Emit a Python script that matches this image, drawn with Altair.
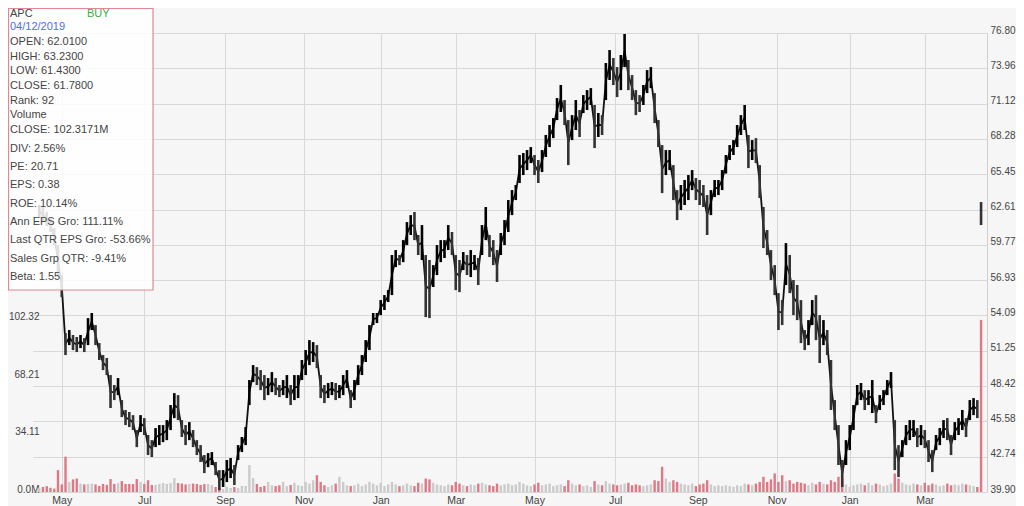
import json
import altair as alt
import pandas as pd

# ---------------- data ----------------
highs = [
    62.97, 62.81, 62.41, 61.92, 61.12, 59.75, 57.34, 52.68, 52.92, 52.52,
    52.36, 52.52, 52.27, 53.88, 54.29, 53.32, 51.87, 50.91, 50.67, 49.30,
    48.50, 49.06, 47.29, 46.49, 46.33, 46.08, 44.88, 46.08, 45.84, 44.48,
    44.07, 45.04, 45.28, 45.28, 45.68, 46.89, 47.85, 47.69, 45.68, 45.28,
    45.52, 44.88, 44.07, 43.67, 42.87, 43.03, 43.11, 42.31, 41.66, 41.66,
    42.47, 42.63, 42.07, 43.67, 44.32, 45.12, 48.90, 50.10, 49.94, 49.70,
    49.30, 49.06, 49.54, 49.06, 48.50, 48.90, 49.30, 48.50, 49.30, 49.30,
    50.51, 51.31, 52.11, 51.95, 51.71, 49.30, 48.50, 48.66, 48.74, 48.66,
    48.50, 49.30, 49.70, 48.09, 48.90, 50.10, 50.91, 52.11, 53.32, 54.29,
    54.29, 55.33, 55.73, 56.13, 58.95, 59.35, 58.95, 60.15, 61.60, 62.16,
    62.41, 60.56, 61.36, 58.95, 58.55, 58.14, 59.75, 60.15, 60.15, 61.36,
    60.80, 58.95, 58.55, 59.19, 58.95, 59.35, 58.95, 58.71, 61.36, 62.81,
    60.56, 60.15, 59.35, 60.72, 61.76, 63.37, 64.17, 64.58, 66.99, 67.15,
    67.39, 67.63, 66.99, 66.59, 67.39, 68.60, 69.40, 69.96, 71.57, 72.62,
    71.41, 69.80, 70.20, 71.41, 70.61, 71.81, 72.21, 72.37, 71.01, 70.37,
    70.20, 74.39, 75.43, 74.79, 74.06, 75.03, 76.72, 74.63, 73.42, 72.21,
    71.81, 72.62, 73.82, 74.06, 71.97, 69.80, 67.79, 67.39, 67.39, 66.18,
    64.17, 64.58, 64.98, 65.38, 65.78, 65.14, 64.98, 64.58, 63.77, 64.17,
    64.98, 64.98, 65.78, 66.99, 67.79, 68.19, 69.40, 70.20, 71.01, 68.60,
    68.19, 68.35, 66.18, 62.81, 60.96, 59.35, 58.14, 55.89, 55.33, 59.91,
    58.95, 56.94, 56.54, 55.33, 52.92, 53.72, 55.33, 55.73, 54.12, 53.72,
    52.92, 50.51, 47.29, 45.28, 42.47, 44.07, 45.28, 46.89, 48.50, 48.66,
    48.09, 48.09, 48.90, 46.89, 47.69, 48.09, 48.90, 49.54, 45.68, 43.67,
    44.07, 45.28, 45.68, 45.68, 45.04, 45.28, 44.88, 44.07, 43.27, 44.48,
    45.04, 45.68, 45.84, 44.48, 45.52, 45.84, 46.49, 45.84, 47.29, 47.45,
    47.29, 63.21,
]
lows = [
    61.92, 61.60, 61.28, 60.80, 59.75, 57.34, 55.57, 50.91, 51.71, 51.31,
    51.15, 51.47, 51.15, 51.71, 52.92, 51.71, 50.51, 49.70, 49.30, 46.65,
    47.29, 47.69, 45.92, 45.28, 45.12, 44.88, 43.51, 44.72, 44.48, 42.87,
    42.71, 43.51, 43.67, 43.91, 44.07, 44.88, 45.84, 45.68, 44.32, 43.67,
    44.07, 43.51, 42.87, 42.31, 41.42, 41.90, 42.07, 41.26, 40.05, 40.30,
    40.70, 41.02, 40.46, 42.47, 43.11, 43.67, 46.89, 48.74, 48.50, 48.09,
    47.29, 47.69, 47.93, 47.69, 47.53, 47.69, 47.45, 46.89, 47.29, 47.45,
    48.90, 49.30, 50.10, 50.35, 49.86, 47.45, 47.05, 47.45, 47.69, 47.29,
    47.45, 47.69, 48.26, 46.65, 47.29, 48.50, 49.30, 50.35, 51.31, 53.32,
    53.48, 54.12, 54.53, 55.17, 55.73, 57.98, 58.14, 58.38, 59.75, 60.56,
    60.15, 58.95, 58.55, 53.96, 53.88, 56.38, 57.34, 58.38, 58.71, 59.35,
    58.95, 56.13, 55.97, 57.74, 57.34, 57.18, 57.74, 56.54, 58.95, 60.15,
    58.79, 58.14, 56.78, 58.95, 59.75, 60.80, 62.16, 63.37, 64.74, 65.38,
    65.78, 66.34, 65.38, 64.74, 65.62, 66.83, 67.63, 68.35, 69.80, 70.45,
    69.40, 66.18, 68.19, 69.00, 68.44, 70.37, 70.61, 71.01, 67.55, 68.44,
    68.60, 71.41, 73.02, 72.62, 71.65, 72.21, 74.06, 72.21, 71.41, 70.20,
    70.45, 71.01, 71.97, 72.37, 69.56, 67.63, 63.93, 65.38, 65.78, 63.37,
    61.76, 62.57, 62.97, 63.37, 64.17, 63.37, 62.97, 62.81, 60.56, 62.16,
    63.61, 63.77, 64.17, 65.50, 66.59, 66.99, 67.63, 68.60, 69.00, 65.94,
    66.59, 66.34, 63.53, 59.51, 58.95, 56.94, 55.73, 52.92, 53.32, 56.54,
    55.89, 54.12, 53.72, 51.87, 51.31, 51.71, 53.32, 52.11, 50.27, 51.71,
    50.91, 46.49, 44.88, 42.07, 40.30, 42.07, 43.27, 44.88, 46.89, 47.29,
    46.49, 46.89, 46.25, 45.44, 46.49, 46.89, 47.69, 48.26, 41.66, 41.10,
    42.71, 43.67, 44.07, 44.32, 43.51, 43.67, 43.43, 42.31, 41.50, 43.27,
    43.67, 44.24, 44.07, 42.87, 44.07, 44.48, 44.88, 44.32, 45.68, 46.08,
    45.84, 61.36,
]
volumes = [
    2.5, 3.0, 3.5, 2.5, 2.0, 13.0, 4.5,
    21.0, 6.0, 7.5, 8.0, 5.0, 4.5,
    4.8, 5.0, 4.5, 3.6, 4.8, 4.2,
    7.7, 4.8, 5.2, 6.5, 4.8, 4.8, 4.7,
    7.7, 6.0, 4.8, 7.0, 4.2,
    4.2, 4.8, 5.3, 4.8, 5.3, 8.3,
    5.3, 5.0, 4.5, 4.8, 5.0, 4.8, 4.2,
    4.7, 4.8, 4.2, 3.0, 2.4, 1.8,
    3.0, 2.4, 3.0, 2.4, 3.6, 3.6,
    16.0, 8.3,
    4.8, 3.0, 3.6, 6.0, 4.0, 3.5, 4.0,
    6.0, 3.5, 4.2, 5.5, 4.0, 3.6, 6.0, 5.0, 7.0,
    10.0, 6.0, 4.0, 3.0, 4.0, 5.0, 9.0, 6.0, 4.0, 3.5,
    4.0, 5.0, 3.5, 4.5, 6.0, 5.0, 4.0, 5.5, 3.5, 4.5,
    6.0, 4.5, 3.5, 4.0, 5.0, 4.0, 3.5, 5.5, 5.0, 8.0,
    7.5, 5.5, 4.5, 4.0, 3.5, 4.5, 4.0, 6.0, 5.0, 4.0,
    3.5, 4.5, 4.0, 5.0, 5.5, 4.5, 4.0, 3.5, 5.0, 4.0,
    4.5, 5.0, 4.0, 4.5, 6.0, 5.0, 4.0, 3.5, 4.5, 5.5,
    4.0, 4.5, 5.0, 3.5, 4.0, 4.5, 3.5, 7.0, 5.0, 4.0,
    4.5, 3.5, 4.0, 3.0, 6.5, 4.5, 4.0, 6.5, 5.0, 4.5,
    4.0, 4.5, 5.0, 5.5, 4.0, 4.5, 4.0, 3.5, 4.0, 4.5,
    7.0, 6.5, 15.0, 8.0, 6.0, 7.0, 6.0, 5.0, 4.5, 4.0,
    5.0, 3.5, 4.5, 5.0, 7.0, 4.5, 3.5, 4.0, 3.5, 4.0,
    3.5, 3.0, 4.0, 3.5, 5.0, 4.5, 4.0, 5.0, 6.0, 9.0,
    6.0, 7.5, 11.0, 6.0, 10.0, 6.5, 7.0, 5.0, 6.0, 5.5,
    5.0, 4.0, 5.5, 4.5, 6.0, 5.0, 4.5, 7.0, 6.0, 9.0,
    7.5, 4.5, 3.0, 4.0, 4.5, 5.0, 4.0, 5.5, 4.0, 5.0,
    4.5, 3.5, 4.0, 5.0,
    11.0, 8.0, 5.5, 4.5, 4.0, 5.0,
    4.5, 4.0, 5.5, 4.0, 5.0, 4.5, 3.5, 4.0, 5.0, 4.0,
    4.5, 4.0, 5.0, 4.5, 4.0, 3.5, 3.0,
    102.32,
]

first_day = -12          # trading-day index of the first bar (0 = 1 May 2017)
day_step = 2             # trading days per bar

month_names = ["May", "Jul", "Sep", "Nov", "Jan", "Mar",
               "May", "Jul", "Sep", "Nov", "Jan", "Mar"]
month_days = [0, 44, 87, 129, 170, 210, 252, 295, 339, 381, 420, 460]

price_ticks = [39.90, 42.74, 45.58, 48.42, 51.25, 54.09, 56.93,
               59.77, 62.61, 65.45, 68.28, 71.12, 73.96, 76.80]
vol_ticks = [0, 34.11, 68.21, 102.32]
vol_tick_labels = ["0.0M", "34.11", "68.21", "102.32"]

ticker = "APC"
signal = "BUY"
quote_date = "04/12/2019"
info_open, info_close = 62.01, 61.78
block1 = ["OPEN: 62.0100", "HIGH: 63.2300", "LOW: 61.4300", "CLOSE: 61.7800",
          "Rank: 92", "Volume", "CLOSE: 102.3171M"]
block2 = ["DIV: 2.56%", "PE: 20.71", "EPS: 0.38", "ROE: 10.14%",
          "Ann EPS Gro: 111.11%", "Last QTR EPS Gro: -53.66%",
          "Sales Grp QTR: -9.41%", "Beta: 1.55"]

# ---------------- table ----------------
n = len(highs)
days = [first_day + day_step * k for k in range(n)]
mids = [(h + l) / 2 for h, l in zip(highs, lows)]
down = [False] + [mids[k] < mids[k - 1] for k in range(1, n)]
down[-1] = info_close < info_open
df = pd.DataFrame({
    "day": days, "high": highs, "low": lows, "mid": mids, "volume": volumes,
    "dir": ["down" if d else "up" for d in down],
})
# the connecting trace stops before the final (gap) bar
trace_df = df.iloc[:-1]

FONT = "Liberation Sans, Arial, sans-serif"
GRID = "#d8d8d8"

x_scale = alt.Scale(domain=[-12.66, 490.5], nice=False, zero=False)
x_axis = alt.Axis(
    values=month_days,
    labelExpr=f"{json.dumps(month_names)}[indexof({json.dumps(month_days)}, datum.value)]",
    grid=True, gridColor=GRID, domain=False, ticks=False,
    labelFontSize=10.5, labelColor="#444", labelFont=FONT, labelPadding=3, title=None,
)
price_scale = alt.Scale(domain=[39.90, 76.80], nice=False, zero=False)
price_axis = alt.Axis(orient="right", values=price_ticks, format=".2f",
                      grid=True, gridColor=GRID, domain=True, domainColor="#cfcfcf",
                      ticks=False, title=None, labelFontSize=10, labelColor="#444",
                      labelFont=FONT, labelPadding=3, labelBaseline="alphabetic")

vol = alt.Chart(df).mark_bar(size=2.4).encode(
    x=alt.X("day:Q", scale=x_scale, axis=x_axis),
    y=alt.Y("volume:Q", scale=alt.Scale(domain=[0, 272.9], nice=False),
            axis=alt.Axis(orient="left", values=vol_ticks,
                          labelExpr=f"{json.dumps(vol_tick_labels)}[indexof({json.dumps(vol_ticks)}, datum.value)]",
                          grid=False, domain=False, ticks=False, title=None,
                          labelFontSize=10, labelColor="#444", labelFont=FONT,
                          labelPadding=-6, labelBaseline="alphabetic")),
    color=alt.Color("dir:N", scale=alt.Scale(domain=["down", "up"], range=["#df7885", "#cbcbcb"]), legend=None),
)

price_bars = alt.Chart(df).mark_rule(strokeWidth=2.6).encode(
    x=alt.X("day:Q", scale=x_scale, axis=x_axis),
    y=alt.Y("low:Q", scale=price_scale, axis=price_axis),
    y2="high:Q",
    color=alt.Color("dir:N", scale=alt.Scale(domain=["down", "up"], range=["#333333", "#000000"]), legend=None),
)
price_trace = alt.Chart(trace_df).mark_line(color="#111", strokeWidth=1.8, strokeJoin="miter").encode(
    x=alt.X("day:Q", scale=x_scale, axis=x_axis),
    y=alt.Y("mid:Q", scale=price_scale, axis=price_axis),
)
price = alt.layer(price_trace, price_bars)

one = pd.DataFrame({"a": [0]})
box = alt.Chart(one).mark_rect(fill="white", fillOpacity=0.85, stroke="#e08893", strokeWidth=1.2).encode(
    x=alt.value(-24.5), x2=alt.value(120), y=alt.value(-24.5), y2=alt.value(257)
)

def txt(s, x, y, color="#444"):
    return alt.Chart(one).mark_text(text=s, align="left", baseline="middle", fontSize=11,
                                    font=FONT, color=color).encode(x=alt.value(x), y=alt.value(y))

texts = [txt(ticker, -23, -19), txt(signal, 54, -19, "#3aae3a"), txt(quote_date, -23, -6, "#4f6fe6")]
for i, s in enumerate(block1):
    texts.append(txt(s, -23, 9.3 + i * 14.55))
for i, s in enumerate(block2):
    texts.append(txt(s, -23, 115.5 + i * 18.35))

chart = alt.layer(vol, price, box, *texts).resolve_scale(
    y="independent", color="independent"
).properties(
    width=954, height=459,
    autosize=alt.AutoSizeParams(type="none"),
    padding={"left": 25, "top": 25, "right": 29, "bottom": 22},
    background="#f6f6f6",
).configure_view(stroke=None)

chart.save("out.html", embed_options={"renderer": "svg", "actions": False})
